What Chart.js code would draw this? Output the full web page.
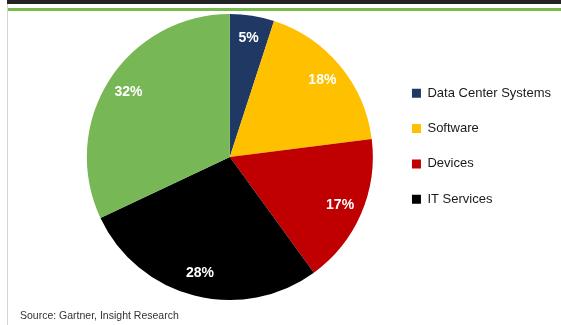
<!DOCTYPE html>
<html>
<head>
<meta charset="utf-8">
<script src="https://cdn.jsdelivr.net/npm/chart.js@4"></script>
<style>
  html, body { margin: 0; padding: 0; background: #ffffff; }
  #wrap { position: relative; width: 561px; height: 325px; overflow: hidden; }
  .topbar { position: absolute; left: 7px; top: 0; width: 554px; height: 4px; background: #232323; }
  .greenbar { position: absolute; left: 7px; top: 8px; width: 554px; height: 3px; background: #77b84f; }
  .leftline { position: absolute; left: 7px; top: 4px; width: 1px; height: 321px; background: #d4d4d4; }
  #chart { position: absolute; left: 0; top: 0; }
  .source { position: absolute; left: 20px; top: 309px; font: 10.5px "Liberation Sans", Arial, sans-serif; color: #333; }
</style>
</head>
<body>
<div id="wrap">
  <div class="topbar"></div>
  <div class="greenbar"></div>
  <div class="leftline"></div>
  <canvas id="chart" width="561" height="325"></canvas>
  <div class="source">Source: Gartner, Insight Research</div>
</div>
<script>
// Chart data
const categories = ['Data Center Systems', 'Software', 'Devices', 'IT Services', 'Communications Services'];
const shares = [5, 18, 17, 28, 32];
const sliceColors = ['#1f3864', '#ffc000', '#c00000', '#000000', '#77b755'];

// Draw the % labels inside each slice
const sliceLabels = {
    id: 'sliceLabels',
    afterDatasetsDraw(chart) {
        const ctx = chart.ctx;
        const meta = chart.getDatasetMeta(0);
        ctx.save();
        ctx.fillStyle = '#ffffff';
        ctx.font = 'bold 14px "Liberation Sans", Arial, sans-serif';
        ctx.textAlign = 'center';
        ctx.textBaseline = 'middle';
        meta.data.forEach((arc, i) => {
            const mid = (arc.startAngle + arc.endAngle) / 2;
            const r = arc.outerRadius * 0.84;
            ctx.fillText(shares[i] + '%', arc.x + Math.cos(mid) * r, arc.y + Math.sin(mid) * r);
        });
        ctx.restore();
    }
};

new Chart(document.getElementById('chart'), {
    type: 'pie',
    data: {
        labels: categories,
        datasets: [{
            data: shares,
            backgroundColor: sliceColors,
            borderWidth: 0,
            radius: 143,
            clip: false
        }]
    },
    options: {
        responsive: false,
        animation: false,
        layout: { padding: { left: 70, right: 0, top: 64.5, bottom: 75.5 } },
        plugins: {
            tooltip: { enabled: false },
            legend: {
                position: 'right',
                align: 'start',
                maxWidth: 173,
                labels: {
                    boxWidth: 9,
                    boxHeight: 9,
                    padding: 22.3,
                    color: '#1a1a1a',
                    font: { family: '"Liberation Sans", Arial, sans-serif', size: 13 },
                    filter: item => item.index < 4
                }
            }
        }
    },
    plugins: [sliceLabels]
});
</script>
</body>
</html>
